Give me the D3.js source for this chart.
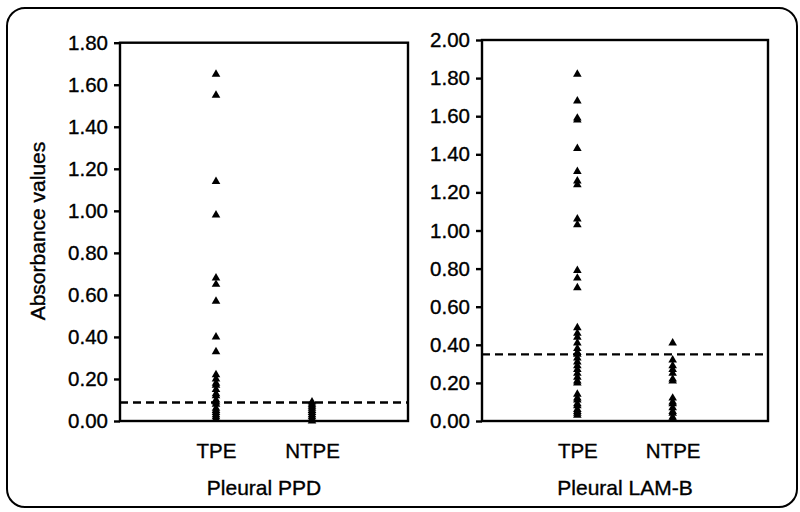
<!DOCTYPE html>
<html>
<head>
<meta charset="utf-8">
<script src="https://cdn.jsdelivr.net/npm/d3@7"></script>
<style>
  html, body { margin: 0; padding: 0; background: #fff; }
  svg text { font-family: "Liberation Sans", Arial, sans-serif; fill: #000; stroke: #000; stroke-width: 0.35px; }
</style>
</head>
<body>
<svg id="chart" width="800" height="512"></svg>
<script>
// ---- Data ----
const categories = ["TPE", "NTPE"];

const ppdTPE = [1.65, 1.55, 1.14, 0.98, 0.68, 0.65, 0.57, 0.40, 0.33,
  0.22, 0.20, 0.18, 0.17, 0.15, 0.13, 0.12, 0.10, 0.09, 0.08, 0.06, 0.05, 0.04, 0.03, 0.02, 0.01];
const ppdNTPE = [0.09, 0.08, 0.07, 0.06, 0.05, 0.04, 0.03, 0.02, 0.01, 0.00];

const lamTPE = [1.82, 1.68, 1.59, 1.58, 1.43, 1.31, 1.26, 1.24, 1.06, 1.03,
  0.79, 0.75, 0.70, 0.49, 0.46, 0.44, 0.41, 0.38, 0.36, 0.35, 0.33, 0.31, 0.29,
  0.27, 0.25, 0.23, 0.21, 0.20, 0.14, 0.12, 0.11, 0.09, 0.08, 0.06, 0.05, 0.04, 0.03];
const lamNTPE = [0.41, 0.32, 0.29, 0.27, 0.25, 0.22, 0.21, 0.12, 0.10, 0.09, 0.07, 0.05, 0.04, 0.02, 0.01];

const ppdTicks = [0, 0.2, 0.4, 0.6, 0.8, 1.0, 1.2, 1.4, 1.6, 1.8];
const lamTicks = [0, 0.2, 0.4, 0.6, 0.8, 1.0, 1.2, 1.4, 1.6, 1.8, 2.0];

const ppdCutoff = 0.088;
const lamCutoff = 0.35;

const panelTitles = ["Pleural PPD", "Pleural LAM-B"];
const yAxisTitle = "Absorbance values";

// ---- Drawing ----
const svg = d3.select("#chart");
const FONT = "'Liberation Sans', Arial, sans-serif";

// outer rounded frame
svg.append("rect")
  .attr("x", 7).attr("y", 8).attr("width", 790).attr("height", 499)
  .attr("rx", 18).attr("ry", 18)
  .attr("fill", "none").attr("stroke", "#000").attr("stroke-width", 2);

const panels = [
  { x0: 120, x1: 408, yTop: 42.7, yBot: 421, max: 1.8, ticks: ppdTicks,
    series: [ppdTPE, ppdNTPE], cutoff: ppdCutoff, title: panelTitles[0] },
  { x0: 482, x1: 768, yTop: 40, yBot: 421, max: 2.0, ticks: lamTicks,
    series: [lamTPE, lamNTPE], cutoff: lamCutoff, title: panelTitles[1] }
];

const tri = d3.symbol().type(d3.symbolTriangle).size(32);

panels.forEach(p => {
  const x = d3.scalePoint().domain(categories).range([p.x0, p.x1]).padding(1);
  const y = d3.scaleLinear().domain([0, p.max]).range([p.yBot, p.yTop]);
  const g = svg.append("g");

  // dashed cutoff line
  g.append("line")
    .attr("x1", p.x0).attr("x2", p.x1)
    .attr("y1", y(p.cutoff)).attr("y2", y(p.cutoff))
    .attr("stroke", "#000").attr("stroke-width", 2.4)
    .attr("stroke-dasharray", "8,5");

  // points
  categories.forEach((c, i) => {
    g.selectAll(null).data(p.series[i]).enter().append("path")
      .attr("d", tri)
      .attr("transform", d => `translate(${x(c)},${y(d)})`)
      .attr("fill", "#000");
  });

  // frame box
  g.append("rect")
    .attr("x", p.x0).attr("y", p.yTop)
    .attr("width", p.x1 - p.x0).attr("height", p.yBot - p.yTop)
    .attr("fill", "none").attr("stroke", "#000").attr("stroke-width", 2.4);

  // y axis
  const ya = g.append("g").attr("transform", `translate(${p.x0},0)`)
    .call(d3.axisLeft(y).tickValues(p.ticks).tickFormat(d3.format(".2f"))
      .tickSize(6).tickPadding(6));
  ya.select(".domain").remove();
  ya.selectAll("line").attr("stroke", "#000").attr("stroke-width", 2.4);
  ya.selectAll("text").style("font-size", "20.5px").style("font-family", FONT);

  // x axis labels
  const xa = g.append("g").attr("transform", `translate(0,${p.yBot})`)
    .call(d3.axisBottom(x).tickSize(0).tickPadding(22));
  xa.select(".domain").remove();
  xa.selectAll("text").style("font-size", "20.5px").style("font-family", FONT);

  // panel title
  g.append("text")
    .attr("x", (x(categories[0]) + x(categories[1])) / 2)
    .attr("y", 495)
    .attr("text-anchor", "middle")
    .style("font-size", "21px")
    .text(p.title);
});

// y axis title
svg.append("text")
  .attr("transform", "translate(45,231) rotate(-90)")
  .attr("text-anchor", "middle")
  .style("font-size", "21px")
  .text(yAxisTitle);
</script>
</body>
</html>
